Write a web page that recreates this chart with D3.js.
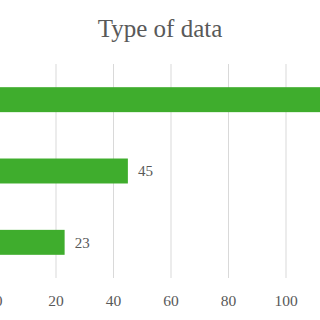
<!DOCTYPE html>
<html>
<head>
<meta charset="utf-8">
<script src="https://cdn.jsdelivr.net/npm/d3@7"></script>
<style>
  body { margin: 0; background: #fff; }
  svg { display: block; }
  text { font-family: "Liberation Serif", "DejaVu Serif", serif; fill: #595959; }
</style>
</head>
<body>
<div id="chart"></div>
<script>
var width = 320;
var height = 320;

// categories (their names sit off the left edge in the reference)
var categories = ["Type A", "Type B", "Type C"];
var values = [130, 45, 23];
var tickValues = [0, 20, 40, 60, 80, 100];

var svg = d3.select("#chart").append("svg")
    .attr("width", width)
    .attr("height", height);

var x = d3.scaleLinear()
    .domain([0, 120])
    .range([-1.5, 343.5]);

var y = d3.scaleBand()
    .domain(categories)
    .range([64, 278])
    .paddingInner(0.65)
    .paddingOuter(0.325);

// title
svg.append("text")
    .attr("x", 160)
    .attr("y", 37)
    .attr("text-anchor", "middle")
    .style("font-size", "25px")
    .text("Type of data");

// grid lines
svg.selectAll(".grid")
    .data(tickValues)
    .enter()
    .append("line")
    .classed("grid", true)
    .attr("x1", d => x(d))
    .attr("x2", d => x(d))
    .attr("y1", 64)
    .attr("y2", 278)
    .style("stroke", "#d9d9d9")
    .style("stroke-width", 1);

// bars
svg.selectAll(".bar")
    .data(values)
    .enter()
    .append("rect")
    .classed("bar", true)
    .attr("x", x(0))
    .attr("y", (d, i) => y(categories[i]))
    .attr("width", d => x(d) - x(0))
    .attr("height", y.bandwidth())
    .attr("fill", "#3fad2d");

// value labels (the top one falls past the right edge, as in the picture)
var shown = values.map((d, i) => ({v: d, c: categories[i]}))
    .filter(d => x(d.v) + 10 < width);

svg.selectAll(".val")
    .data(shown)
    .enter()
    .append("text")
    .classed("val", true)
    .attr("x", d => x(d.v) + 10)
    .attr("y", d => y(d.c) + y.bandwidth() / 2)
    .attr("dy", "0.35em")
    .style("font-size", "15px")
    .text(d => d.v);

// x tick labels
svg.selectAll(".tick-label")
    .data(tickValues)
    .enter()
    .append("text")
    .classed("tick-label", true)
    .attr("x", d => x(d))
    .attr("y", 306)
    .attr("text-anchor", "middle")
    .style("font-size", "15.5px")
    .text(d => d);
</script>
</body>
</html>
